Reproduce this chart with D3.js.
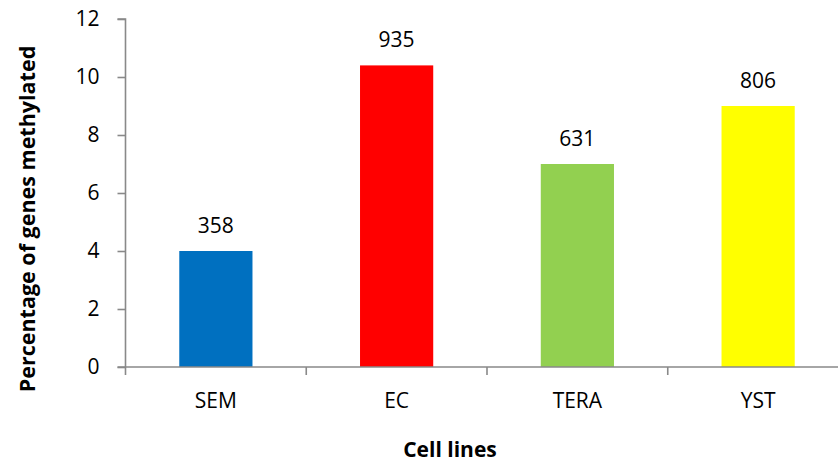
<!DOCTYPE html>
<html>
<head>
<meta charset="utf-8">
<script src="https://cdn.jsdelivr.net/npm/d3@7"></script>
<style>
  html, body { margin: 0; padding: 0; background: #fff; }
  svg { display: block; }
  text { font-family: "Open Sans", "Noto Sans", sans-serif; fill: #000; }
</style>
</head>
<body>
<svg id="chart" width="838" height="464"></svg>
<script>
// Cell lines and the share of genes methylated in each
const categories = ["SEM", "EC", "TERA", "YST"];
const percentMethylated = [4.0, 10.4, 7.0, 9.0];
// Number of methylated genes printed above each bar
const geneCounts = [358, 935, 631, 806];
const barColors = ["#0070C0", "#FF0000", "#92D050", "#FFFF00"];
const yTicks = [0, 2, 4, 6, 8, 10, 12];

const svg = d3.select("#chart");
const axisColor = "#898989";
const labelSize = "21px";

const x = d3.scaleBand()
  .domain(categories)
  .range([125.5, 848.5])
  .paddingInner(0.595)
  .paddingOuter(0.2975);

const y = d3.scaleLinear()
  .domain([0, 12])
  .range([367, 19]);

// Bars
svg.append("g")
  .selectAll("rect")
  .data(categories)
  .join("rect")
  .attr("x", d => x(d))
  .attr("width", x.bandwidth())
  .attr("y", (d, i) => y(percentMethylated[i]))
  .attr("height", (d, i) => y(0) - y(percentMethylated[i]))
  .attr("fill", (d, i) => barColors[i]);

// Count labels
svg.append("g")
  .selectAll("text")
  .data(categories)
  .join("text")
  .attr("x", d => x(d) + x.bandwidth() / 2)
  .attr("y", (d, i) => y(percentMethylated[i]) - 18.5)
  .attr("text-anchor", "middle")
  .style("font-size", labelSize)
  .text((d, i) => geneCounts[i]);

// Y axis
const yAxis = svg.append("g")
  .attr("transform", "translate(125.5,0)")
  .call(d3.axisLeft(y).tickValues(yTicks).tickSize(8).tickPadding(18).tickFormat(d3.format("d")));
yAxis.select(".domain").attr("d", `M-8,${y(12)}H0V${y(0) + 8}`);

// X axis with ticks at band boundaries
const xAxis = svg.append("g")
  .attr("transform", `translate(0,${y(0)})`);
xAxis.append("line")
  .attr("x1", 117.5).attr("x2", 838)
  .attr("y1", 0).attr("y2", 0);
const step = x.step();
const boundaries = d3.range(1, categories.length).map(i => x.range()[0] + i * step);
xAxis.selectAll("line.tick")
  .data(boundaries)
  .join("line")
  .attr("class", "tick")
  .attr("x1", d => d).attr("x2", d => d)
  .attr("y1", 0).attr("y2", 8);
xAxis.selectAll("text")
  .data(categories)
  .join("text")
  .attr("x", d => x(d) + x.bandwidth() / 2)
  .attr("y", 41)
  .attr("text-anchor", "middle")
  .style("font-size", labelSize)
  .text(d => d);

// Axis styling
svg.selectAll(".domain, .tick line, line")
  .attr("stroke", axisColor)
  .attr("stroke-width", 1.6)
  .attr("fill", "none");
yAxis.selectAll(".tick text").style("font-size", labelSize).attr("fill", "#000");

// Axis titles
svg.append("text")
  .attr("transform", "translate(35,219) rotate(-90)")
  .attr("text-anchor", "middle")
  .style("font-size", "21.5px")
  .style("font-weight", "bold")
  .text("Percentage of genes methylated");

svg.append("text")
  .attr("x", 450)
  .attr("y", 456.5)
  .attr("text-anchor", "middle")
  .style("font-size", "21px")
  .style("font-weight", "bold")
  .text("Cell lines");
</script>
</body>
</html>
